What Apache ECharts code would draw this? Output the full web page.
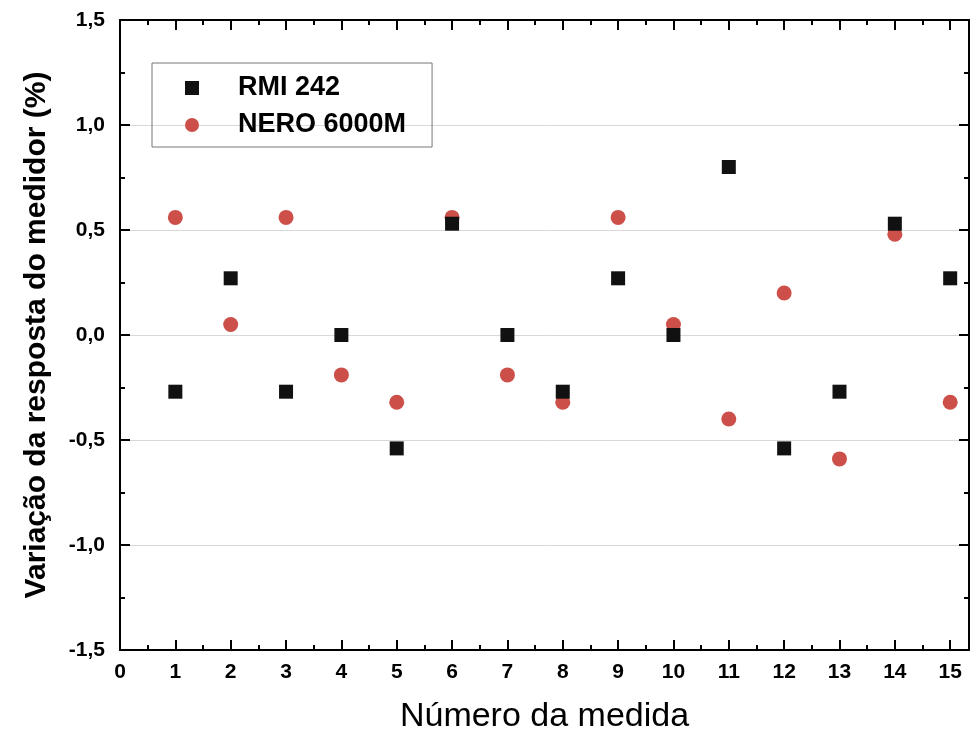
<!DOCTYPE html>
<html><head><meta charset="utf-8">
<script src="https://cdn.jsdelivr.net/npm/echarts@6/dist/echarts.min.js"></script>
<style>html,body{margin:0;padding:0;background:#fff}#c{width:972px;height:739px}</style>
</head><body><div id="c"></div>
<script>
const medidas = [1,2,3,4,5,6,7,8,9,10,11,12,13,14,15];
const rmi242 = [-0.27,0.27,-0.27,0.0,-0.54,0.53,0.0,-0.27,0.27,0.0,0.80,-0.54,-0.27,0.53,0.27];
const nero6000m = [0.56,0.05,0.56,-0.19,-0.32,0.56,-0.19,-0.32,0.56,0.05,-0.40,0.20,-0.59,0.48,-0.32];
const xTicks = {min:0, max:15.34, interval:1};
const yTicks = {min:-1.5, max:1.5, interval:0.5};

const chart = echarts.init(document.getElementById('c'));
const fmt = v => v.toFixed(1).replace('.', ',');
const FF = 'Liberation Sans, Arial, sans-serif';
const tick = {inside:true, length:10, lineStyle:{color:'#000', width:2}};
const minor = {show:true, splitNumber:2, length:5, lineStyle:{color:'#000', width:2}};
const line = {show:true, onZero:false, lineStyle:{color:'#000', width:2}};
chart.setOption({
  animation:false,
  backgroundColor:'#fff',
  grid:{left:120, right:1, top:20, bottom:88, containLabel:false},
  legend:{
    orient:'vertical', left:152, top:63,
    padding:[10,26,7,33], itemGap:7,
    itemWidth:14, itemHeight:14,
    borderColor:'#777', borderWidth:1,
    textStyle:{fontSize:27, fontWeight:'bold', fontFamily:FF, color:'#000', lineHeight:30, padding:[0,0,0,34]},
    data:['RMI 242','NERO 6000M']
  },
  xAxis:[{
    type:'value', min:xTicks.min, max:xTicks.max, interval:xTicks.interval,
    name:'Número da medida', nameLocation:'middle', nameGap:50,
    nameTextStyle:{fontSize:34, fontFamily:FF, color:'#000'},
    axisLine:line, axisTick:tick, minorTick:minor,
    axisLabel:{fontSize:21, fontWeight:'bold', margin:12, fontFamily:FF, color:'#000',
      formatter:v => (Math.abs(v-Math.round(v))<1e-6 ? String(Math.round(v)) : '')},
    splitLine:{show:false}
  },{
    type:'value', position:'top', min:xTicks.min, max:xTicks.max, interval:xTicks.interval,
    axisLine:line, axisTick:tick, minorTick:minor,
    axisLabel:{show:false}, splitLine:{show:false}
  }],
  yAxis:[{
    type:'value', min:yTicks.min, max:yTicks.max, interval:yTicks.interval,
    name:'Variação da resposta do medidor (%)', nameLocation:'middle', nameGap:68,
    nameTextStyle:{fontSize:30, fontWeight:'bold', fontFamily:FF, color:'#000'},
    axisLine:line, axisTick:tick, minorTick:minor,
    axisLabel:{fontSize:21, fontWeight:'bold', margin:15, fontFamily:FF, color:'#000', formatter:fmt},
    splitLine:{show:true, lineStyle:{color:'#d8d8d8', width:1}}
  },{
    type:'value', position:'right', min:yTicks.min, max:yTicks.max, interval:yTicks.interval,
    axisLine:line, axisTick:tick, minorTick:minor,
    axisLabel:{show:false}, splitLine:{show:false}
  }],
  series:[{
    name:'RMI 242', type:'scatter', symbol:'rect', symbolSize:14,
    itemStyle:{color:'#111', opacity:1},
    data:medidas.map((m,i)=>[m, rmi242[i]]), z:3
  },{
    name:'NERO 6000M', type:'scatter', symbol:'circle', symbolSize:15,
    itemStyle:{color:'#cc4f49', opacity:1},
    data:medidas.map((m,i)=>[m, nero6000m[i]]), z:2
  }]
});
</script></body></html>
